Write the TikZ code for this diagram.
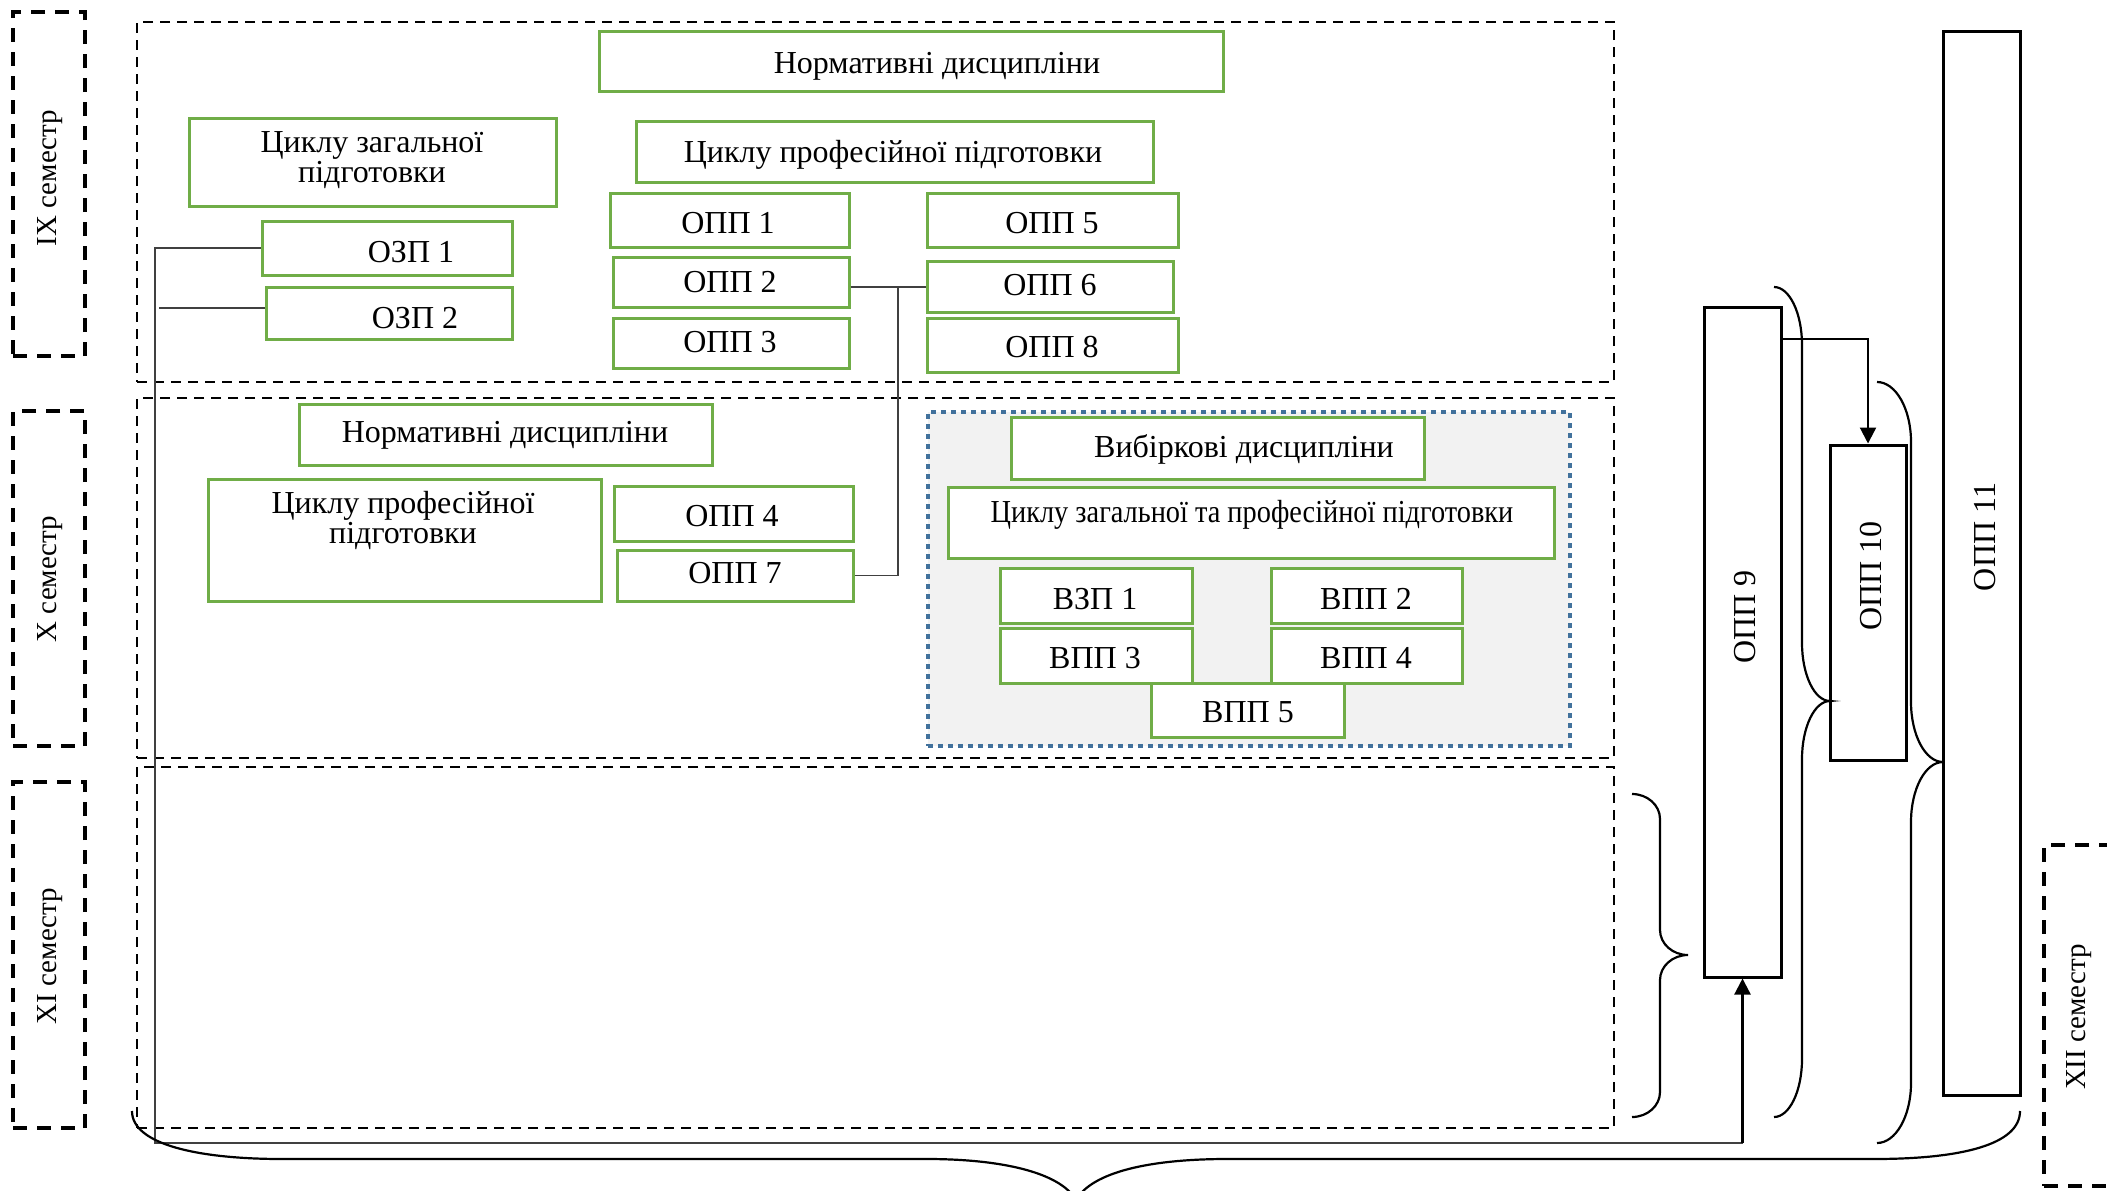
\documentclass[tikz,border=0pt]{standalone}
\usepackage{fontspec}
\setmainfont{Liberation Serif}
\usepackage{graphicx}
\usetikzlibrary{arrows.meta}
\definecolor{grn}{RGB}{112,173,71}
\definecolor{blu}{RGB}{65,113,156}
\definecolor{lgr}{RGB}{242,242,242}
\definecolor{cng}{RGB}{64,64,64}
\newcommand{\mkbox}[6]{%
  \node[#2, minimum width={(#5)-(#3)}, minimum height={(#6)-(#4)}] (#1) at ({((#3)+(#5))/2},{((#4)+(#6))/2}) {};}
\newcommand{\vbr}[7]{%
  \draw[brc] (#1,#4) .. controls ({#1+0.552*(#2-#1)},#4) and (#2,{#4+0.448*#7}) .. (#2,{#4+#7})
   -- (#2,{#5-#7}) .. controls (#2,{#5-0.448*#7}) and ({#3-0.552*(#3-#2)},#5) .. (#3,#5)
   .. controls ({#3-0.552*(#3-#2)},#5) and (#2,{#5+0.448*#7}) .. (#2,{#5+#7})
   -- (#2,{#6-#7}) .. controls (#2,{#6-0.448*#7}) and ({#1+0.552*(#2-#1)},#6) .. (#1,#6);}
\begin{document}
\begin{tikzpicture}[x={(1pt,0pt)}, y={(0pt,-1pt)},
  gbox/.style={draw=grn, line width=3pt, fill=white, rectangle, inner sep=0pt},
  kbox/.style={draw=black, line width=3pt, fill=white, rectangle, inner sep=0pt},
  semb/.style={draw=black, line width=4pt, dash pattern=on 14pt off 10pt, rectangle, inner sep=0pt},
  secb/.style={draw=black, line width=2.6pt, dash pattern=on 10pt off 7pt, rectangle, inner sep=0pt},
  selb/.style={draw=blu, line width=4.5pt, dash pattern=on 5pt off 5pt, fill=lgr, rectangle, inner sep=0pt},
  txt/.style={font=\fontsize{32}{38}\selectfont, inner sep=0pt, anchor=base},
  lab/.style={font=\fontsize{29}{35}\selectfont, inner sep=0pt, anchor=base, rotate=90},
  conn/.style={draw=cng, line width=1.8pt},
  brc/.style={draw=black, line width=2.2pt},
  arr/.style={draw=black, line width=2.2pt, -{Triangle[length=16pt,width=16pt]}}]
\useasboundingbox (0,0) rectangle (2107,1191);
\fill[white] (0,0) rectangle (2107,1191);

% semester sections
\mkbox{secIX}{secb}{137}{22}{1614}{382}
\mkbox{secX}{secb}{137}{398}{1614}{758}
\mkbox{secXI}{secb}{137}{767}{1614}{1128}

% semester labels
\mkbox{sIX}{semb}{13}{12}{85}{356}
\node[lab] (tsIX) at (56,178) {IX семестр};
\mkbox{sX}{semb}{13}{411}{85}{746}
\node[lab] (tsX) at (56,579) {X семестр};
\mkbox{sXI}{semb}{13}{782}{85}{1128}
\node[lab] (tsXI) at (56,956) {XI семестр};
\mkbox{sXII}{semb}{2044}{845}{2112}{1186}
\node[lab] (tsXII) at (2085,1017) {XII семестр};

% IX semester
\mkbox{nd1}{gbox}{599}{31}{1223}{91}
\node[txt] (tnd1) at (937,73) {Нормативні дисципліни};
\mkbox{czp}{gbox}{189}{118}{556}{206}
\node[txt] (tczpa) at (372,152) {Циклу загальної};
\node[txt] (tczpb) at (372,182) {підготовки};
\mkbox{cpp}{gbox}{636}{121}{1153}{182}
\node[txt] (tcpp) at (893,162) {Циклу професійної підготовки};
\mkbox{opp1}{gbox}{610}{193}{849}{247}
\node[txt] (topp1) at (728,233) {ОПП 1};
\mkbox{opp2}{gbox}{613}{257}{849}{307}
\node[txt] (topp2) at (730,292) {ОПП 2};
\mkbox{opp3}{gbox}{613}{318}{849}{368}
\node[txt] (topp3) at (730,352) {ОПП 3};
\mkbox{opp5}{gbox}{927}{193}{1178}{247}
\node[txt] (topp5) at (1052,233) {ОПП 5};
\mkbox{opp6}{gbox}{927}{261}{1173}{312}
\node[txt] (topp6) at (1050,295) {ОПП 6};
\mkbox{opp8}{gbox}{927}{318}{1178}{372}
\node[txt] (topp8) at (1052,357) {ОПП 8};
\mkbox{ozp1}{gbox}{262}{221}{512}{275}
\node[txt] (tozp1) at (411,262) {ОЗП 1};
\mkbox{ozp2}{gbox}{266}{287}{512}{339}
\node[txt] (tozp2) at (415,328) {ОЗП 2};

% X semester
\mkbox{nd2}{gbox}{299}{404}{712}{465}
\node[txt] (tnd2) at (505,442) {Нормативні дисципліни};
\mkbox{cpp2}{gbox}{208}{479}{601}{601}
\node[txt] (tcpp2a) at (403,513) {Циклу професійної};
\node[txt] (tcpp2b) at (403,543) {підготовки};
\mkbox{opp4}{gbox}{614}{486}{853}{541}
\node[txt] (topp4) at (732,526) {ОПП 4};
\mkbox{opp7}{gbox}{617}{550}{853}{601}
\node[txt] (topp7) at (735,583) {ОПП 7};

\mkbox{sel}{selb}{928}{412}{1570}{746}
\mkbox{vd}{gbox}{1011}{417}{1424}{479}
\node[txt] (tvd) at (1244,457) {Вибіркові дисципліни};
\mkbox{czpp}{gbox}{948}{487}{1554}{558}
\node[txt] (tczpp) at (1252,522) {\scalebox{0.886}[1]{Циклу загальної та професійної підготовки}};
\mkbox{vzp1}{gbox}{1000}{568}{1192}{623}
\node[txt] (tvzp1) at (1095,609) {ВЗП 1};
\mkbox{vpp2}{gbox}{1271}{568}{1462}{623}
\node[txt] (tvpp2) at (1366,609) {ВПП 2};
\mkbox{vpp3}{gbox}{1000}{628}{1192}{683}
\node[txt] (tvpp3) at (1095,668) {ВПП 3};
\mkbox{vpp4}{gbox}{1271}{628}{1462}{683}
\node[txt] (tvpp4) at (1366,668) {ВПП 4};
\mkbox{vpp5}{gbox}{1151}{683}{1344}{737}
\node[txt] (tvpp5) at (1248,722) {ВПП 5};

% right column
\mkbox{opp9}{kbox}{1704}{307}{1781}{977}
\node[txt, rotate=90] (topp9) at (1755,617) {ОПП 9};
\mkbox{opp10}{kbox}{1830}{445}{1906}{760}
\node[txt, rotate=90] (topp10) at (1881,576) {ОПП 10};
\mkbox{opp11}{kbox}{1943}{31}{2020}{1095}
\node[txt, rotate=90] (topp11) at (1995,537) {ОПП 11};

% connectors
\coordinate (j1) at (155,1143);
\coordinate (j2) at (898,287);
\coordinate (j3) at (1866,339);
\coordinate (j4) at (159,308);
\draw[conn] (ozp1.west) -| (j1) -- (j1 -| opp9.south);
\draw[arr] (j1 -| opp9.south) -- (opp9.south);
\draw[conn] (ozp2.west |- j4) -- (j4);
\draw[conn] (opp2.east |- j2) -- (opp6.west |- j2);
\draw[conn] (j2) |- (opp7.east);
\draw[arr] (opp9.east |- j3) -| (opp10.north);

% braces
\vbr{1632}{1660}{1688}{794}{955}{1117}{25}
\vbr{1774}{1802}{1830}{287}{701}{1117}{58}
\vbr{1877}{1911}{1943}{382}{762}{1143}{60}
\draw[brc] (132,1111) .. controls (132,1145) and (200,1159) .. (282,1159) -- (927,1159)
  .. controls (1000,1159) and (1060,1172) .. (1076,1200)
  .. controls (1092,1172) and (1150,1159) .. (1227,1159) -- (1874,1159)
  .. controls (1960,1159) and (2020,1145) .. (2020,1111);
\end{tikzpicture}
\end{document}
